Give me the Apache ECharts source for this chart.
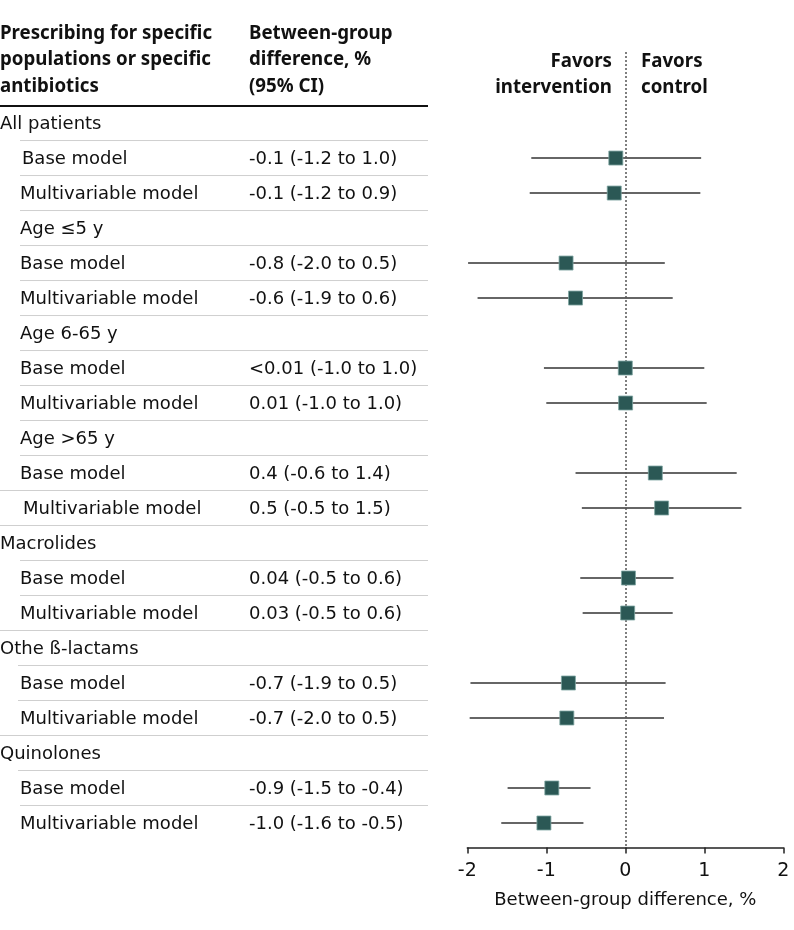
<!DOCTYPE html>
<html>
<head>
<meta charset="utf-8">
<script src="https://cdn.jsdelivr.net/npm/echarts@6/dist/echarts.min.js"></script>
<style>
html,body{margin:0;padding:0;background:#fff;}
#chart{width:794px;height:930px;}
</style>
</head>
<body>
<div id="chart"></div>
<script>
// ---- DATA ----
var rowLabels = [
  'All patients', 'Base model', 'Multivariable model',
  'Age ≤5 y', 'Base model', 'Multivariable model',
  'Age 6-65 y', 'Base model', 'Multivariable model',
  'Age >65 y', 'Base model', 'Multivariable model',
  'Macrolides', 'Base model', 'Multivariable model',
  'Othe ß-lactams', 'Base model', 'Multivariable model',
  'Quinolones', 'Base model', 'Multivariable model'
];
var ciText = [
  '', '-0.1 (-1.2 to 1.0)', '-0.1 (-1.2 to 0.9)',
  '', '-0.8 (-2.0 to 0.5)', '-0.6 (-1.9 to 0.6)',
  '', '<0.01 (-1.0 to 1.0)', '0.01 (-1.0 to 1.0)',
  '', '0.4 (-0.6 to 1.4)', '0.5 (-0.5 to 1.5)',
  '', '0.04 (-0.5 to 0.6)', '0.03 (-0.5 to 0.6)',
  '', '-0.7 (-1.9 to 0.5)', '-0.7 (-2.0 to 0.5)',
  '', '-0.9 (-1.5 to -0.4)', '-1.0 (-1.6 to -0.5)'
];
var estimate = [
  null, -0.12, -0.14,
  null, -0.75, -0.63,
  null, 0.00, 0.004,
  null, 0.38, 0.46,
  null, 0.04, 0.03,
  null, -0.72, -0.74,
  null, -0.93, -1.03
];
var lower = [
  null, -1.19, -1.21,
  null, -1.99, -1.87,
  null, -1.03, -1.00,
  null, -0.63, -0.55,
  null, -0.57, -0.54,
  null, -1.96, -1.97,
  null, -1.49, -1.57
];
var upper = [
  null, 0.96, 0.95,
  null, 0.50, 0.60,
  null, 1.00, 1.03,
  null, 1.41, 1.47,
  null, 0.61, 0.60,
  null, 0.51, 0.49,
  null, -0.44, -0.53
];
var xTicks = [-2, -1, 0, 1, 2];
var headerLeft = ['Prescribing for specific', 'populations or specific', 'antibiotics'];
var headerMid = ['Between-group', 'difference, %', '(95% CI)'];
var favorsLeft = ['Favors', 'intervention'];
var favorsRight = ['Favors', 'control'];
var axisTitle = 'Between-group difference, %';

// ---- STYLE (positions) ----
var FONT = '"DejaVu Sans", sans-serif';
var HFONT = '"Noto Sans", sans-serif';
var FS = 18;
var HFS = 18.7;
var labelX = [0,22,20, 20,20,20, 20,20,20, 20,20,23, 0,20,20, 0,20,20, 0,20,20];
var sepStart = [20,20,20, 20,20,20, 20,20,20, 20,0,0, 20,20,0, 18,18,0, 18,20];
var valueX = 249;

var chart = echarts.init(document.getElementById('chart'), null, {renderer: 'canvas'});

var idx = rowLabels.map(function (_, i) { return i; });
var tableData = idx.map(function (i) { return [0, i]; });
var ciData = [];
var ptData = [];
idx.forEach(function (i) {
  if (estimate[i] !== null) {
    ciData.push([lower[i], upper[i], i]);
    ptData.push([estimate[i], i]);
  }
});

var option = {
  animation: false,
  backgroundColor: '#fff',
  textStyle: {fontFamily: FONT},
  grid: {left: 467.3, right: 794 - 783.3, top: 52, height: 795.5, containLabel: false},
  xAxis: {
    type: 'value', min: -2, max: 2, interval: 1,
    axisLine: {show: true, onZero: false, lineStyle: {color: '#222', width: 1.5}},
    axisTick: {show: true, length: 6, lineStyle: {color: '#222', width: 1.5}},
    axisLabel: {
      color: '#111', fontSize: 19, fontFamily: FONT, margin: 14,
      formatter: function (v) { return xTicks.indexOf(v) >= 0 ? String(v) : ''; }
    },
    splitLine: {show: false},
    name: axisTitle, nameLocation: 'middle', nameGap: 44,
    nameTextStyle: {color: '#111', fontSize: FS, fontFamily: FONT}
  },
  yAxis: {
    type: 'value', inverse: true, min: -2.03, max: 20.7, show: false
  },
  series: [
    {
      type: 'custom',
      name: 'table',
      clip: false,
      silent: true,
      data: tableData,
      renderItem: function (params, api) {
        var i = api.value(1);
        var y = api.coord([0, i])[1];
        var children = [{
          type: 'text',
          style: {x: labelX[i], y: y + 1, text: rowLabels[i], fill: '#111',
            font: FS + 'px ' + FONT, textVerticalAlign: 'middle', textAlign: 'left'}
        }];
        if (ciText[i]) {
          children.push({
            type: 'text',
            style: {x: valueX, y: y + 1, text: ciText[i], fill: '#111',
              font: FS + 'px ' + FONT, textVerticalAlign: 'middle', textAlign: 'left'}
          });
        }
        if (i < rowLabels.length - 1) {
          var ys = api.coord([0, i + 0.5])[1];
          children.push({
            type: 'line',
            shape: {x1: sepStart[i], y1: ys, x2: 428, y2: ys},
            style: {stroke: '#cfcfcf', lineWidth: 1}
          });
        }
        return {type: 'group', children: children};
      }
    },
    {
      type: 'custom',
      name: 'ci',
      clip: false,
      silent: true,
      data: ciData,
      encode: {x: [0, 1], y: 2},
      renderItem: function (params, api) {
        var a = api.coord([api.value(0), api.value(2)]);
        var b = api.coord([api.value(1), api.value(2)]);
        return {
          type: 'line',
          shape: {x1: a[0], y1: a[1], x2: b[0], y2: b[1]},
          style: {stroke: '#333', lineWidth: 1.5}
        };
      },
      markLine: {
        silent: true,
        symbol: ['none', 'none'],
        label: {show: false},
        lineStyle: {color: '#555', type: [2, 2], width: 1.5},
        data: [{xAxis: 0}]
      }
    },
    {
      type: 'scatter',
      name: 'estimate',
      symbol: 'rect',
      symbolSize: 14,
      silent: true,
      z: 5,
      itemStyle: {color: '#2b5855', borderColor: '#7fa6a2', borderWidth: 0.8, opacity: 1},
      data: ptData
    }
  ],
  graphic: [
    {type: 'text', left: 0, top: 20, style: {text: headerLeft.join('\n'), font: 'bold ' + HFS + 'px ' + HFONT, fill: '#111', lineHeight: 26.5}},
    {type: 'text', left: valueX, top: 20, style: {text: headerMid.join('\n'), font: 'bold ' + HFS + 'px ' + HFONT, fill: '#111', lineHeight: 26.5}},
    {type: 'text', right: 794 - 612, top: 48, style: {text: favorsLeft.join('\n'), font: 'bold ' + HFS + 'px ' + HFONT, fill: '#111', lineHeight: 26.5, textAlign: 'right'}},
    {type: 'text', left: 641, top: 48, style: {text: favorsRight.join('\n'), font: 'bold ' + HFS + 'px ' + HFONT, fill: '#111', lineHeight: 26.5}},
    {type: 'line', shape: {x1: 0, y1: 106, x2: 428, y2: 106}, style: {stroke: '#111', lineWidth: 2}}
  ]
};
chart.setOption(option);
</script>
</body>
</html>
